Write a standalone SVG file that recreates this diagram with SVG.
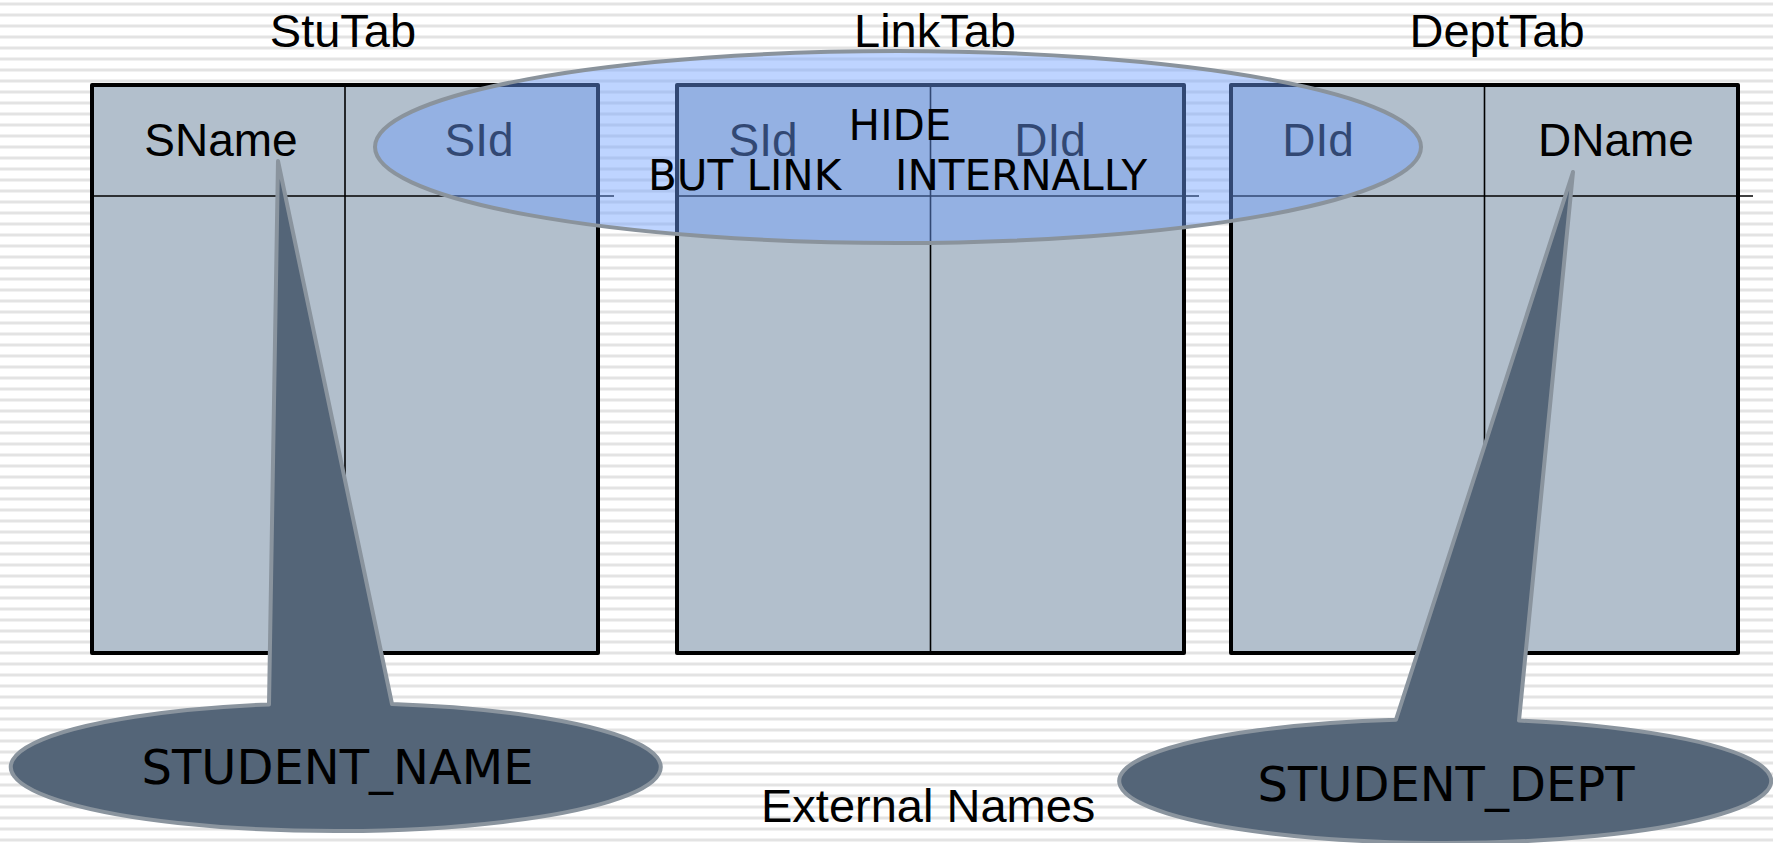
<svg xmlns="http://www.w3.org/2000/svg" width="1773" height="843" viewBox="0 0 1773 843">
<style>
.tbl{fill:#B2BFCC;stroke:#000;stroke-width:4;stroke-linejoin:round}
.ln{stroke:#000;stroke-width:1.6;fill:none}
.ttl{font-family:"Liberation Sans",Arial,sans-serif;font-size:47px;fill:#000;text-anchor:middle}
.col{font-family:"Liberation Sans",Arial,sans-serif;font-size:46px;fill:#000;text-anchor:middle}
.dj{font-family:"DejaVu Sans",Verdana,sans-serif;fill:#000}
.call{fill:#546578;stroke:#8A949E;stroke-width:4;stroke-linejoin:round}
</style>
<defs>
<pattern id="stripes" patternUnits="userSpaceOnUse" width="11" height="11">
<rect x="0" y="0" width="11" height="11" fill="#fff"/>
<rect x="0" y="2.5" width="11" height="3" fill="#E3E3E3"/>
</pattern>
</defs>
<rect x="0" y="0" width="1773" height="843" fill="url(#stripes)"/>

<g id="stutab">
<text class="ttl" x="343" y="47">StuTab</text>
<rect class="tbl" x="92" y="85" width="506" height="568"/>
<line class="ln" x1="345" y1="85" x2="345" y2="653"/>
<line class="ln" x1="92" y1="196" x2="614" y2="196"/>
<text class="col" x="221" y="156">SName</text>
<text class="col" x="479" y="156">SId</text>
</g>

<g id="linktab">
<text class="ttl" x="935" y="47">LinkTab</text>
<rect class="tbl" x="677" y="85" width="507" height="568"/>
<line class="ln" x1="930.5" y1="85" x2="930.5" y2="653"/>
<line class="ln" x1="677" y1="196" x2="1199" y2="196"/>
<text class="col" x="763" y="156">SId</text>
<text class="col" x="1050" y="156">DId</text>
</g>

<g id="depttab">
<text class="ttl" x="1497" y="47">DeptTab</text>
<rect class="tbl" x="1231" y="85" width="507" height="568"/>
<line class="ln" x1="1484.5" y1="85" x2="1484.5" y2="653"/>
<line class="ln" x1="1231" y1="196" x2="1753" y2="196"/>
<text class="col" x="1318" y="156">DId</text>
<text class="col" x="1616" y="156">DName</text>
</g>

<g id="hide-ellipse">
<ellipse cx="898" cy="147" rx="523" ry="96" fill="#6EA0FF" fill-opacity="0.45" stroke="#8A939C" stroke-width="4"/>
<text class="dj" font-size="42" x="900" y="140" text-anchor="middle">HIDE</text>
<text class="dj" font-size="42" y="190"><tspan x="648">BUT LINK</tspan><tspan x="895">INTERNALLY</tspan></text>
</g>

<g id="connectors"></g>

<g id="callout-name">
<path class="call" d="M269,704.4 L278,161 L392,704 A325,64 0 1 1 269,704.4 Z"/>
<text class="dj" font-size="48" x="337.5" y="784" text-anchor="middle">STUDENT_NAME</text>
</g>

<g id="callout-dept">
<path class="call" d="M1396,719.7 L1573,172 L1519,720.6 A326,62 0 1 1 1396,719.7 Z"/>
<text class="dj" font-size="48" x="1446" y="801" text-anchor="middle">STUDENT_DEPT</text>
</g>

<g id="external-names">
<text x="761" y="822" font-family="Liberation Sans, Arial, sans-serif" font-size="47" fill="#000">External Names</text>
</g>
</svg>
